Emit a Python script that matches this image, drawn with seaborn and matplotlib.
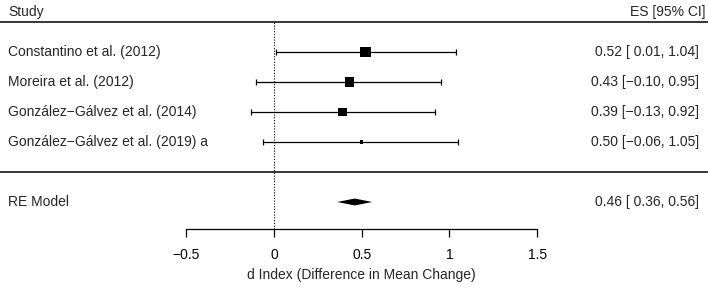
import matplotlib
matplotlib.use("Agg")
import matplotlib.pyplot as plt
import seaborn as sns
import pandas as pd

# Forest plot data
studies = [
    "Constantino et al. (2012)",
    "Moreira et al. (2012)",
    "González\u2212Gálvez et al. (2014)",
    "González\u2212Gálvez et al. (2019) a",
]
es = [0.52, 0.43, 0.39, 0.50]
ci_lo = [0.01, -0.10, -0.13, -0.06]
ci_hi = [1.04, 0.95, 0.92, 1.05]
weights = [31, 25, 20, 5]

re_label = "RE Model"
re_es, re_lo, re_hi = 0.46, 0.36, 0.56

xticks = [-0.5, 0, 0.5, 1, 1.5]
xlabel = "d Index (Difference in Mean Change)"


def fmt(v):
    s = f"{v:.2f}"
    return s.replace("-", "\u2212") if v < 0 else " " + s


sns.set_theme(style="white")
plt.rcParams["font.family"] = ["Liberation Sans", "DejaVu Sans"]
fs = 10

rows = [-1, -2, -3, -4]
df = pd.DataFrame({"es": es, "row": rows, "w": weights})

fig = plt.figure(figsize=(7.08, 2.88), dpi=100)
ax = fig.add_axes([0, 0, 1, 1])
ax.set_xlim(-1.561, 2.473)
ax.set_ylim(-8.867, 0.733)

# separators and null line
ax.axhline(0, color="black", lw=1.1)
ax.axhline(-5, color="black", lw=1.1)
ax.vlines(0, -6.9, 0, color="black", lw=0.8, linestyles=(0, (1, 1.5)))

# CIs and squares
ax.errorbar(es, rows, xerr=[[e - l for e, l in zip(es, ci_lo)],
                            [h - e for e, h in zip(es, ci_hi)]],
            fmt="none", ecolor="black", elinewidth=0.9, capsize=2.2, capthick=0.9)
sns.scatterplot(data=df, x="es", y="row", size="w", sizes=(6, 62), marker="s",
                color="black", edgecolor="black", linewidth=0, legend=False, ax=ax)

# RE diamond
h = 0.115
ax.fill([re_lo, re_es, re_hi, re_es], [-6, -6 + h, -6, -6 - h], color="black", lw=0)

# bottom axis
ax.spines[["top", "right", "left"]].set_visible(False)
ax.spines["bottom"].set_position(("data", -6.9))
ax.spines["bottom"].set_bounds(xticks[0], xticks[-1])
ax.spines["bottom"].set_linewidth(0.9)
ax.spines["bottom"].set_color("black")
ax.set_xticks(xticks)
ax.set_xticklabels([("\u2212" + str(abs(t)) if t < 0 else str(t)) for t in xticks], fontsize=fs)
ax.tick_params(axis="x", direction="out", length=5.5, width=0.9, color="black",
               pad=8, bottom=True, labelcolor="black")
ax.set_yticks([])
ax.set_xlabel("")
ax.set_ylabel("")
ax.text(0.5, -8.45, xlabel, ha="center", va="center", fontsize=fs)

# text columns
tr = ax.get_yaxis_transform()
ax.text(0.0113, 0.333, "Study", transform=tr, ha="left", va="center", fontsize=fs)
ax.text(0.996, 0.333, "ES [95% CI]", transform=tr, ha="right", va="center", fontsize=fs)
for r, s, e, l, hi in zip(rows, studies, es, ci_lo, ci_hi):
    ax.text(0.0113, r, s, transform=tr, ha="left", va="center", fontsize=fs)
    ax.text(0.987, r, f"{e:.2f} [{fmt(l)}, {hi:.2f}]", transform=tr,
            ha="right", va="center", fontsize=fs)
ax.text(0.0113, -6, re_label, transform=tr, ha="left", va="center", fontsize=fs)
ax.text(0.987, -6, f"{re_es:.2f} [{fmt(re_lo)}, {re_hi:.2f}]", transform=tr,
        ha="right", va="center", fontsize=fs)

fig.savefig("out.png", dpi=100)
